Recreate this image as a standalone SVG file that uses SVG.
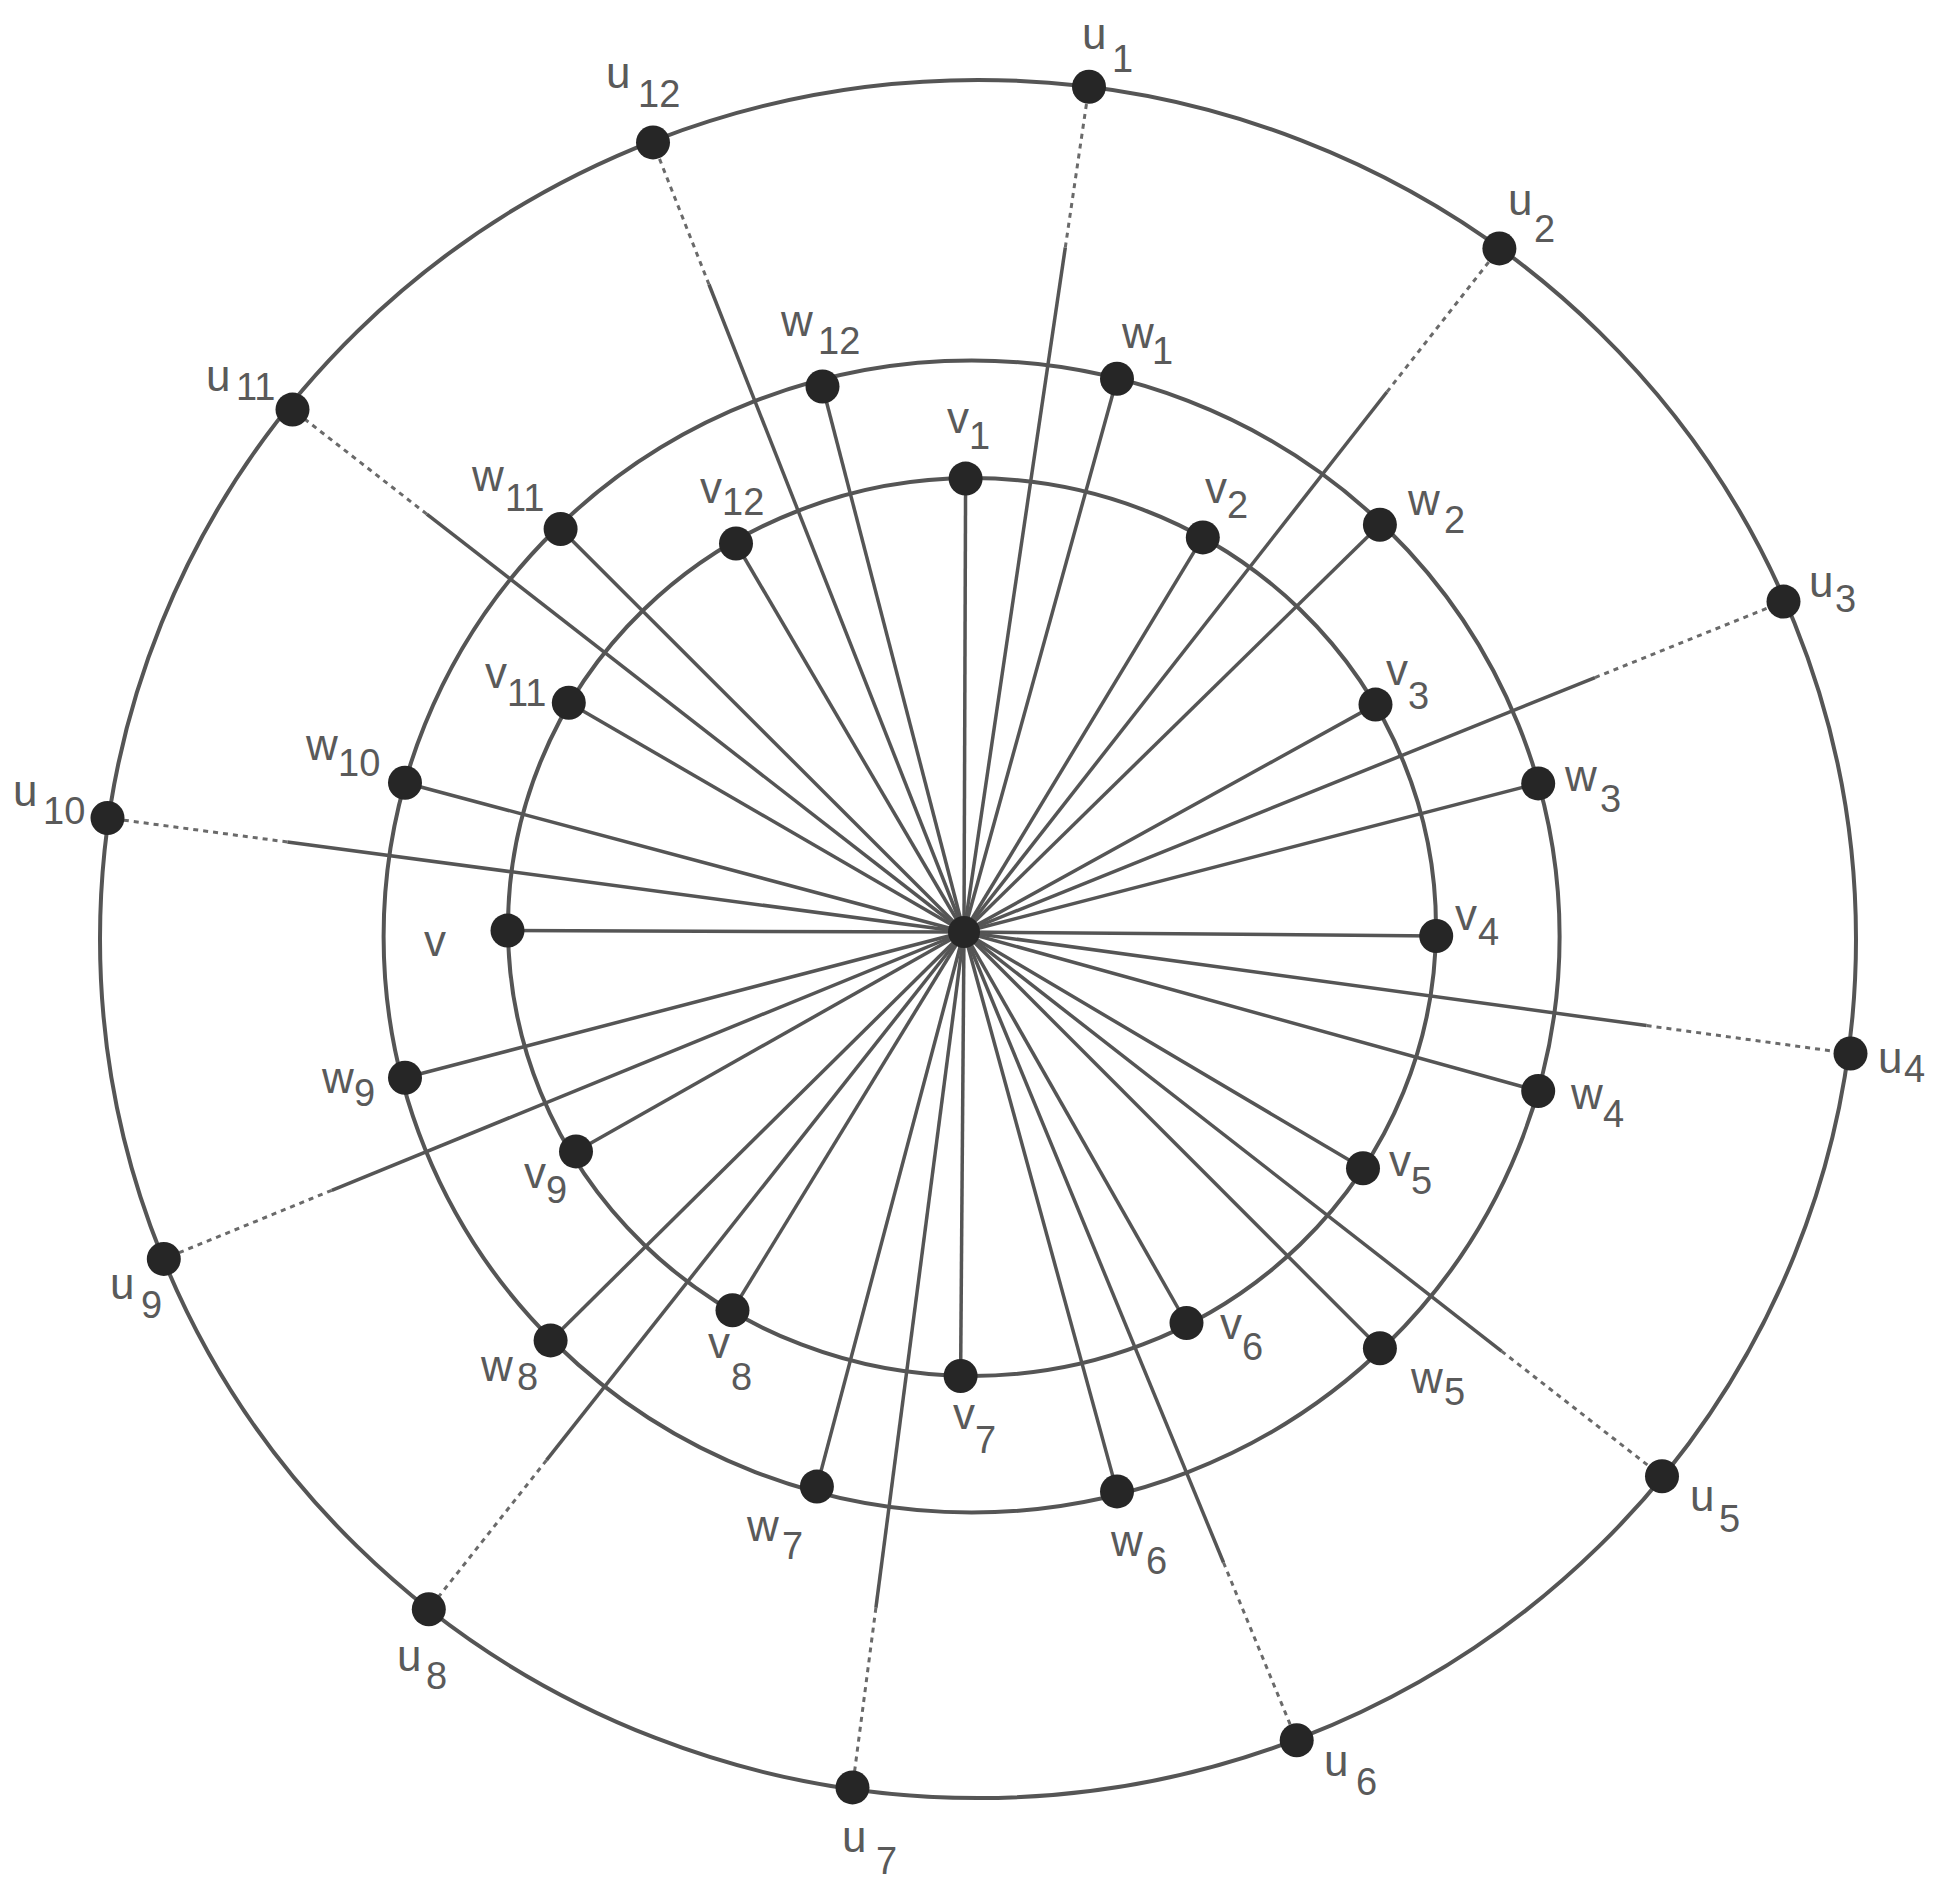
<svg xmlns="http://www.w3.org/2000/svg" width="1951" height="1887" viewBox="0 0 1951 1887">
<style>
.ring{fill:none;stroke:#555;stroke-width:4}
.sp{stroke:#555;stroke-width:3.5;fill:none}
.dash{stroke:#6a6a6a;stroke-width:3;stroke-dasharray:5 5;fill:none}
.dot{fill:#262626}
.lbl{font-family:"Liberation Sans",Arial,sans-serif;font-size:44px;fill:#5a5a5a}
.sub{font-size:38px}
</style>
<rect width="1951" height="1887" fill="#fff"/>
<g id="connectors">
<ellipse class="ring" cx="978" cy="939" rx="878" ry="859"/>
<ellipse class="ring" cx="971.6" cy="936.5" rx="588" ry="576"/>
<ellipse class="ring" cx="972" cy="927" rx="464" ry="449"/>
<!-- spokes to v -->
<line class="sp" x1="964" y1="932" x2="965.6" y2="478.6"/>
<line class="sp" x1="964" y1="932" x2="1202.8" y2="537.4"/>
<line class="sp" x1="964" y1="932" x2="1375.5" y2="704.6"/>
<line class="sp" x1="964" y1="932" x2="1436.2" y2="936"/>
<line class="sp" x1="964" y1="932" x2="1363" y2="1168.3"/>
<line class="sp" x1="964" y1="932" x2="1186.5" y2="1323"/>
<line class="sp" x1="964" y1="932" x2="960.6" y2="1376"/>
<line class="sp" x1="964" y1="932" x2="732.5" y2="1310.2"/>
<line class="sp" x1="964" y1="932" x2="576" y2="1151.4"/>
<line class="sp" x1="964" y1="932" x2="507.5" y2="930.6"/>
<line class="sp" x1="964" y1="932" x2="568.8" y2="702.8"/>
<line class="sp" x1="964" y1="932" x2="736" y2="543.5"/>
<!-- spokes to w -->
<line class="sp" x1="964" y1="932" x2="1117" y2="378.7"/>
<line class="sp" x1="964" y1="932" x2="1379.9" y2="524.7"/>
<line class="sp" x1="964" y1="932" x2="1538.2" y2="783.4"/>
<line class="sp" x1="964" y1="932" x2="1538.2" y2="1091"/>
<line class="sp" x1="964" y1="932" x2="1379.9" y2="1348.3"/>
<line class="sp" x1="964" y1="932" x2="1117" y2="1491.4"/>
<line class="sp" x1="964" y1="932" x2="816.9" y2="1486.6"/>
<line class="sp" x1="964" y1="932" x2="550.6" y2="1340.4"/>
<line class="sp" x1="964" y1="932" x2="405" y2="1077.7"/>
<line class="sp" x1="964" y1="932" x2="405" y2="782.8"/>
<line class="sp" x1="964" y1="932" x2="560.6" y2="529"/>
<line class="sp" x1="964" y1="932" x2="822.5" y2="386.5"/>
<!-- spokes to u (solid part) -->
<line class="sp" x1="964" y1="932" x2="1065.3" y2="247.5"/>
<line class="sp" x1="964" y1="932" x2="1386.9" y2="392"/>
<line class="sp" x1="964" y1="932" x2="1595" y2="677.6"/>
<line class="sp" x1="964" y1="932" x2="1646.6" y2="1025.6"/>
<line class="sp" x1="964" y1="932" x2="1501.5" y2="1351.1"/>
<line class="sp" x1="964" y1="932" x2="1223.5" y2="1562.5"/>
<line class="sp" x1="964" y1="932" x2="875.9" y2="1607.8"/>
<line class="sp" x1="964" y1="932" x2="546.5" y2="1460.2"/>
<line class="sp" x1="964" y1="932" x2="331.8" y2="1190.3"/>
<line class="sp" x1="964" y1="932" x2="287.4" y2="842"/>
<line class="sp" x1="964" y1="932" x2="426.8" y2="514.1"/>
<line class="sp" x1="964" y1="932" x2="709" y2="284.5"/>
<!-- spokes to u (dotted part) -->
<line class="dash" x1="1065.3" y1="247.5" x2="1089" y2="86.7"/>
<line class="dash" x1="1386.9" y1="392" x2="1499.4" y2="248.4"/>
<line class="dash" x1="1595" y1="677.6" x2="1783.5" y2="601.6"/>
<line class="dash" x1="1646.6" y1="1025.6" x2="1850.5" y2="1053.5"/>
<line class="dash" x1="1501.5" y1="1351.1" x2="1662" y2="1476.3"/>
<line class="dash" x1="1223.5" y1="1562.5" x2="1296.7" y2="1740.3"/>
<line class="dash" x1="875.9" y1="1607.8" x2="852.5" y2="1787.4"/>
<line class="dash" x1="546.5" y1="1460.2" x2="428.8" y2="1609.2"/>
<line class="dash" x1="331.8" y1="1190.3" x2="163.8" y2="1258.9"/>
<line class="dash" x1="287.4" y1="842" x2="107.5" y2="818"/>
<line class="dash" x1="426.8" y1="514.1" x2="292.5" y2="409.6"/>
<line class="dash" x1="709" y1="284.5" x2="653" y2="142.4"/>
</g>
<g id="center"><circle class="dot" cx="964" cy="932" r="16"/></g>
<!-- u nodes -->
<g id="u1"><circle class="dot" cx="1089" cy="86.7" r="17"/><text class="lbl" x="1082" y="49">u<tspan class="sub" x="1112" y="72">1</tspan></text></g>
<g id="u2"><circle class="dot" cx="1499.4" cy="248.4" r="17"/><text class="lbl" x="1508" y="215">u<tspan class="sub" x="1534" y="242">2</tspan></text></g>
<g id="u3"><circle class="dot" cx="1783.5" cy="601.6" r="17"/><text class="lbl" x="1809" y="597">u<tspan class="sub" x="1835" y="612">3</tspan></text></g>
<g id="u4"><circle class="dot" cx="1850.5" cy="1053.5" r="17"/><text class="lbl" x="1878" y="1073">u<tspan class="sub" x="1904" y="1082">4</tspan></text></g>
<g id="u5"><circle class="dot" cx="1662" cy="1476.3" r="17"/><text class="lbl" x="1690" y="1511">u<tspan class="sub" x="1719" y="1532">5</tspan></text></g>
<g id="u6"><circle class="dot" cx="1296.7" cy="1740.3" r="17"/><text class="lbl" x="1324" y="1776">u<tspan class="sub" x="1356" y="1795">6</tspan></text></g>
<g id="u7"><circle class="dot" cx="852.5" cy="1787.4" r="17"/><text class="lbl" x="842" y="1852">u<tspan class="sub" x="876" y="1874">7</tspan></text></g>
<g id="u8"><circle class="dot" cx="428.8" cy="1609.2" r="17"/><text class="lbl" x="397" y="1671">u<tspan class="sub" x="426" y="1689">8</tspan></text></g>
<g id="u9"><circle class="dot" cx="163.8" cy="1258.9" r="17"/><text class="lbl" x="110" y="1299">u<tspan class="sub" x="141" y="1318">9</tspan></text></g>
<g id="u10"><circle class="dot" cx="107.5" cy="818" r="17"/><text class="lbl" x="13" y="806">u<tspan class="sub" x="43" y="824">10</tspan></text></g>
<g id="u11"><circle class="dot" cx="292.5" cy="409.6" r="17"/><text class="lbl" x="206" y="391">u<tspan class="sub" x="236" y="400">11</tspan></text></g>
<g id="u12"><circle class="dot" cx="653" cy="142.4" r="17"/><text class="lbl" x="606" y="88">u<tspan class="sub" x="638" y="107">12</tspan></text></g>
<!-- w nodes -->
<g id="w1"><circle class="dot" cx="1117" cy="378.7" r="17"/><text class="lbl" x="1122" y="348">w<tspan class="sub" x="1152" y="364">1</tspan></text></g>
<g id="w2"><circle class="dot" cx="1379.9" cy="524.7" r="17"/><text class="lbl" x="1408" y="515">w<tspan class="sub" x="1444" y="533">2</tspan></text></g>
<g id="w3"><circle class="dot" cx="1538.2" cy="783.4" r="17"/><text class="lbl" x="1565" y="791">w<tspan class="sub" x="1600" y="812">3</tspan></text></g>
<g id="w4"><circle class="dot" cx="1538.2" cy="1091" r="17"/><text class="lbl" x="1571" y="1109">w<tspan class="sub" x="1603" y="1127">4</tspan></text></g>
<g id="w5"><circle class="dot" cx="1379.9" cy="1348.3" r="17"/><text class="lbl" x="1411" y="1393">w<tspan class="sub" x="1444" y="1405">5</tspan></text></g>
<g id="w6"><circle class="dot" cx="1117" cy="1491.4" r="17"/><text class="lbl" x="1111" y="1556">w<tspan class="sub" x="1146" y="1574">6</tspan></text></g>
<g id="w7"><circle class="dot" cx="816.9" cy="1486.6" r="17"/><text class="lbl" x="747" y="1541">w<tspan class="sub" x="782" y="1559">7</tspan></text></g>
<g id="w8"><circle class="dot" cx="550.6" cy="1340.4" r="17"/><text class="lbl" x="481" y="1381">w<tspan class="sub" x="517" y="1390">8</tspan></text></g>
<g id="w9"><circle class="dot" cx="405" cy="1077.7" r="17"/><text class="lbl" x="322" y="1093">w<tspan class="sub" x="354" y="1106">9</tspan></text></g>
<g id="w10"><circle class="dot" cx="405" cy="782.8" r="17"/><text class="lbl" x="306" y="760">w<tspan class="sub" x="338" y="776">10</tspan></text></g>
<g id="w11"><circle class="dot" cx="560.6" cy="529" r="17"/><text class="lbl" x="472" y="491">w<tspan class="sub" x="505" y="511">11</tspan></text></g>
<g id="w12"><circle class="dot" cx="822.5" cy="386.5" r="17"/><text class="lbl" x="781" y="336">w<tspan class="sub" x="818" y="354">12</tspan></text></g>
<!-- v nodes -->
<g id="v1"><circle class="dot" cx="965.6" cy="478.6" r="17"/><text class="lbl" x="947" y="433">v<tspan class="sub" x="969" y="449">1</tspan></text></g>
<g id="v2"><circle class="dot" cx="1202.8" cy="537.4" r="17"/><text class="lbl" x="1205" y="503">v<tspan class="sub" x="1227" y="518">2</tspan></text></g>
<g id="v3"><circle class="dot" cx="1375.5" cy="704.6" r="17"/><text class="lbl" x="1386" y="685">v<tspan class="sub" x="1408" y="709">3</tspan></text></g>
<g id="v4"><circle class="dot" cx="1436.2" cy="936" r="17"/><text class="lbl" x="1455" y="930">v<tspan class="sub" x="1478" y="945">4</tspan></text></g>
<g id="v5"><circle class="dot" cx="1363" cy="1168.3" r="17"/><text class="lbl" x="1389" y="1176">v<tspan class="sub" x="1411" y="1194">5</tspan></text></g>
<g id="v6"><circle class="dot" cx="1186.5" cy="1323" r="17"/><text class="lbl" x="1220" y="1339">v<tspan class="sub" x="1242" y="1360">6</tspan></text></g>
<g id="v7"><circle class="dot" cx="960.6" cy="1376" r="17"/><text class="lbl" x="953" y="1429">v<tspan class="sub" x="975" y="1453">7</tspan></text></g>
<g id="v8"><circle class="dot" cx="732.5" cy="1310.2" r="17"/><text class="lbl" x="708" y="1358">v<tspan class="sub" x="731" y="1390">8</tspan></text></g>
<g id="v9"><circle class="dot" cx="576" cy="1151.4" r="17"/><text class="lbl" x="524" y="1188">v<tspan class="sub" x="546" y="1203">9</tspan></text></g>
<g id="v10"><circle class="dot" cx="507.5" cy="930.6" r="17"/><text class="lbl" x="424" y="956">v</text></g>
<g id="v11"><circle class="dot" cx="568.8" cy="702.8" r="17"/><text class="lbl" x="485" y="688">v<tspan class="sub" x="507" y="706">11</tspan></text></g>
<g id="v12"><circle class="dot" cx="736" cy="543.5" r="17"/><text class="lbl" x="700" y="503">v<tspan class="sub" x="722" y="515">12</tspan></text></g>
</svg>
